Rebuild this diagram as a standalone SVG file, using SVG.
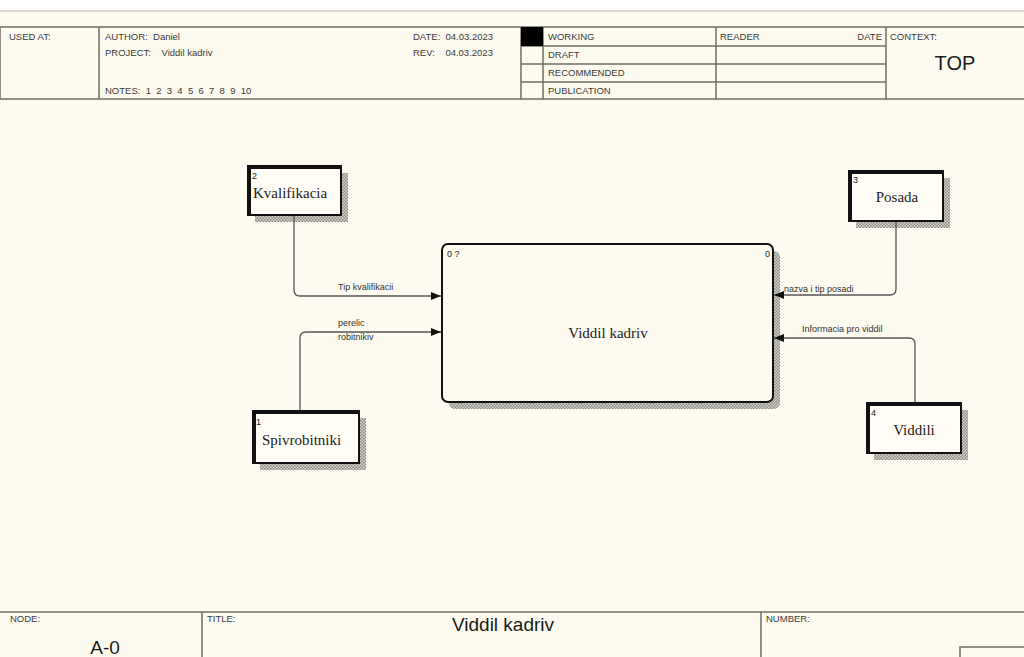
<svg xmlns="http://www.w3.org/2000/svg" width="1024" height="657" viewBox="0 0 1024 657">
<style>
.bg{fill:#fdfaef}
.frame{fill:none;stroke:#6e6e66;stroke-width:1.5}
.hdr{font-family:"Liberation Sans",Arial,sans-serif;font-size:9.5px;fill:#3a3a3a;white-space:pre}
.big{font-family:"Liberation Sans",Arial,sans-serif;fill:#1a1a1a}
.ent{fill:#fffdf5;stroke:#111;stroke-width:2}
.entthick{fill:none;stroke:#111;stroke-width:4}
.shadow{fill:url(#hatch)}
.num{font-family:"Liberation Sans",Arial,sans-serif;font-size:9px;fill:#222;white-space:pre}
.lbl{font-family:"Liberation Serif","Times New Roman",serif;font-size:15px;fill:#222}
.conn{fill:none;stroke:#555;stroke-width:1.3}
.clbl{font-family:"Liberation Sans",Arial,sans-serif;font-size:9px;fill:#333}
</style>
<defs>
<pattern id="hatch" width="3" height="3" patternUnits="userSpaceOnUse">
<rect width="3" height="3" fill="#d8d6cc"/>
<rect width="1.5" height="1.5" fill="#8a8a84"/>
<rect x="1.5" y="1.5" width="1.5" height="1.5" fill="#8a8a84"/>
</pattern>
<marker id="arr" viewBox="0 0 10 10" refX="10" refY="5" markerWidth="10" markerHeight="10" markerUnits="userSpaceOnUse" orient="auto">
<path d="M0,1 L10,5 L0,9 z" fill="#111"/>
</marker>
</defs>
<rect width="1024" height="657" fill="#ffffff"/>
<rect y="11" width="1024" height="646" class="bg"/>
<line x1="0" y1="11" x2="1024" y2="11" stroke="#b0b0a8" stroke-width="1"/>

<g id="header">
<rect x="0" y="27" width="1030" height="72" class="frame"/>
<line x1="99" y1="27" x2="99" y2="99" class="frame"/>
<line x1="521" y1="27" x2="521" y2="99" class="frame"/>
<line x1="543" y1="27" x2="543" y2="99" class="frame"/>
<line x1="716" y1="27" x2="716" y2="99" class="frame"/>
<line x1="886" y1="27" x2="886" y2="99" class="frame"/>
<line x1="521" y1="46" x2="886" y2="46" class="frame"/>
<line x1="521" y1="64" x2="886" y2="64" class="frame"/>
<line x1="521" y1="82" x2="886" y2="82" class="frame"/>
<rect x="521" y="27" width="22" height="19" fill="#000"/>
<text x="9" y="40" class="hdr">USED AT:</text>
<text x="105" y="40" class="hdr">AUTHOR:  Daniel</text>
<text x="105" y="56" class="hdr">PROJECT:    Viddil kadriv</text>
<text x="105" y="94" class="hdr">NOTES:  1  2  3  4  5  6  7  8  9  10</text>
<text x="413" y="40" class="hdr">DATE:  04.03.2023</text>
<text x="413" y="56" class="hdr">REV:    04.03.2023</text>
<text x="548" y="40" class="hdr">WORKING</text>
<text x="548" y="58" class="hdr">DRAFT</text>
<text x="548" y="76" class="hdr">RECOMMENDED</text>
<text x="548" y="94" class="hdr">PUBLICATION</text>
<text x="720" y="40" class="hdr">READER</text>
<text x="882" y="40" class="hdr" text-anchor="end">DATE</text>
<text x="890" y="40" class="hdr">CONTEXT:</text>
<text x="955" y="70" class="big" font-size="20" text-anchor="middle">TOP</text>
</g>

<g id="footer">
<line x1="0" y1="612" x2="1024" y2="612" class="frame"/>
<line x1="202" y1="612" x2="202" y2="657" class="frame"/>
<line x1="761" y1="612" x2="761" y2="657" class="frame"/>
<polyline points="960,657 960,647 1024,647" class="frame"/>
<text x="10" y="622" class="hdr" font-size="8">NODE:</text>
<text x="207" y="622" class="hdr" font-size="8">TITLE:</text>
<text x="766" y="622" class="hdr" font-size="8">NUMBER:</text>
<text x="105" y="654" class="big" font-size="19" text-anchor="middle">A-0</text>
<text x="503" y="631" class="big" font-size="19" text-anchor="middle">Viddil kadriv</text>
</g>

<g id="main">
<rect x="449" y="251" width="331" height="158" rx="6" class="shadow"/>
<rect x="442" y="244" width="331" height="158" rx="6" fill="#fdfaef" stroke="#111" stroke-width="2"/>
<text x="447" y="257" class="num">0 ?</text>
<text x="765" y="257" class="num">0</text>
<text x="608" y="338" class="lbl" text-anchor="middle">Viddil kadriv</text>
</g>

<g id="kvalifikacia">
<rect x="255" y="173" width="93" height="49" class="shadow"/>
<rect x="248" y="166" width="93" height="49" class="ent"/>
<polyline points="249,215 249,167 341,167" class="entthick"/>
<text x="252" y="179" class="num">2</text>
<text x="253" y="198" class="lbl">Kvalifikacia</text>
</g>

<g id="spivrobitniki">
<rect x="260" y="418" width="106" height="52" class="shadow"/>
<rect x="253" y="411" width="106" height="52" class="ent"/>
<polyline points="254,463 254,412 359,412" class="entthick"/>
<text x="256" y="425" class="num">1</text>
<text x="262" y="445" class="lbl">Spivrobitniki</text>
</g>

<g id="posada">
<rect x="856" y="178" width="94" height="50" class="shadow"/>
<rect x="849" y="171" width="94" height="50" class="ent"/>
<polyline points="850,221 850,172 943,172" class="entthick"/>
<text x="853" y="183" class="num">3</text>
<text x="897" y="202" class="lbl" text-anchor="middle">Posada</text>
</g>

<g id="viddili">
<rect x="874" y="410" width="94" height="50" class="shadow"/>
<rect x="867" y="403" width="94" height="50" class="ent"/>
<polyline points="868,453 868,404 961,404" class="entthick"/>
<text x="871" y="416" class="num">4</text>
<text x="914" y="435" class="lbl" text-anchor="middle">Viddili</text>
</g>

<g id="connectors">
<path d="M294,216 V290 Q294,296 300,296 H441" class="conn" marker-end="url(#arr)"/>
<text x="338" y="290" class="clbl">Tip kvalifikacii</text>
<path d="M300,410 V338 Q300,332 306,332 H441" class="conn" marker-end="url(#arr)"/>
<text x="338" y="326" class="clbl">perelic</text>
<text x="338" y="340" class="clbl">robitnikiv</text>
<path d="M896,222 V289 Q896,295 890,295 H774" class="conn" marker-end="url(#arr)"/>
<text x="784" y="292" class="clbl">nazva i tip posadi</text>
<path d="M915,402 V344 Q915,338 909,338 H774" class="conn" marker-end="url(#arr)"/>
<text x="802" y="332" class="clbl">Informacia pro viddil</text>
</g>
</svg>
